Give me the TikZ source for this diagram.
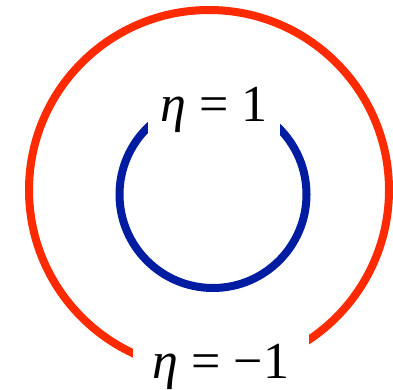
\documentclass[tikz,border=0pt]{standalone}
\usepackage{fontspec}
\setmainfont{Liberation Serif}
\definecolor{ringred}{RGB}{255,42,0}
\definecolor{ringblue}{RGB}{0,28,160}
\begin{document}
\begin{tikzpicture}[x=1pt,y=-1pt,
  ring/.style={line width=8pt},
  lbl/.style={fill=white,inner sep=0pt,anchor=base,font=\fontsize{52}{60}\selectfont}]
\useasboundingbox (0,0) rectangle (393,390);
\draw[ring,ringred] (209,190) circle[radius=180];
\draw[ring,ringblue] (213,194.5) circle[radius=93.5];
\node[lbl,minimum width=132pt,text height=45pt,text depth=18pt] (top) at (214,122) {{\itshape η} = 1};
\node[lbl,minimum width=176pt,text height=50pt,text depth=20pt] (bot) at (221,378) {{\itshape η} = −1};
\end{tikzpicture}
\end{document}
